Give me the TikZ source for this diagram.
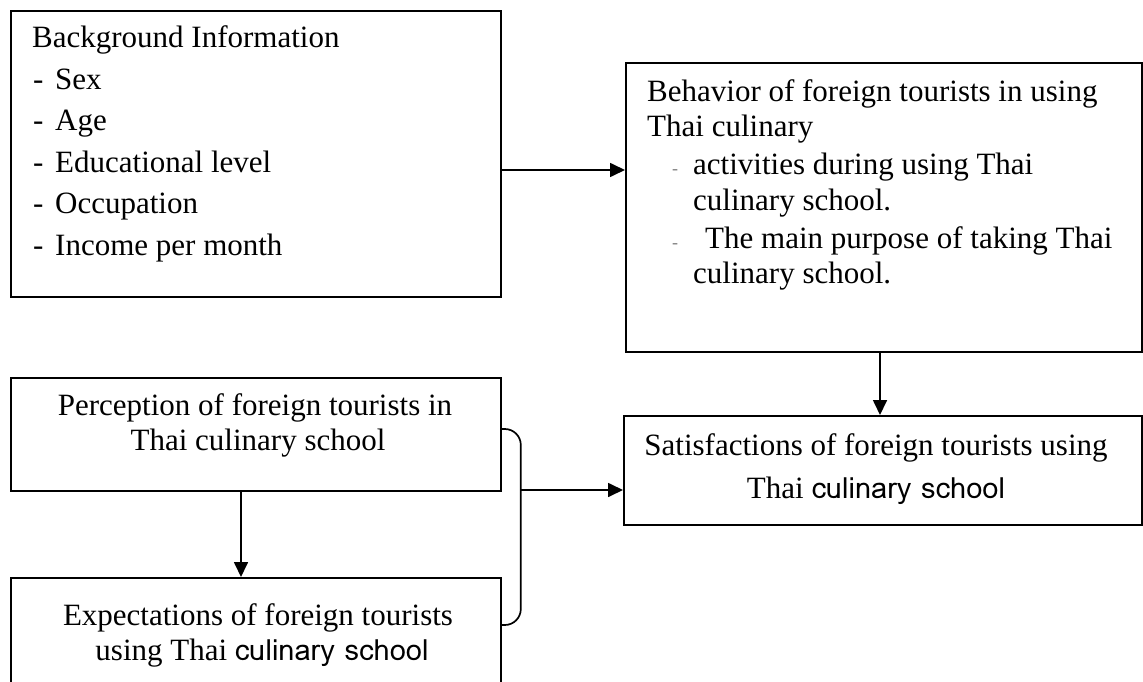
\documentclass[tikz,border=0pt]{standalone}
\usepackage{fontspec}
\setmainfont{Liberation Serif}
\newfontfamily\roundsans{Loma}
\usetikzlibrary{arrows.meta,calc}

\tikzset{
  x=1pt, y=-1pt,
  box/.style={draw, line width=1.8pt, inner sep=0pt, anchor=north west},
  txt/.style={inner sep=0pt, font=\fontsize{31}{36}\selectfont},
  lefttxt/.style={txt, anchor=base west},
  midtxt/.style={txt, anchor=base},
  smalldash/.style={inner sep=0pt, anchor=base west, text=gray, font=\fontsize{18}{18}\selectfont},
  arr/.style={line width=1.7pt, -{Triangle[length=15pt,width=14pt]}},
  brace/.style={line width=1.7pt, rounded corners=16pt},
}
\newcommand{\cs}{{\roundsans\fontsize{29}{34}\selectfont culinary school}}

\begin{document}
\begin{tikzpicture}
\useasboundingbox (0,0) rectangle (1143,682);
\clip (0,0) rectangle (1143,682);

% boxes
\node[box, minimum width=490pt, minimum height=286pt] (bg)   at (10,10)   {};
\node[box, minimum width=516pt, minimum height=289pt] (beh)  at (625,62)  {};
\node[box, minimum width=518pt, minimum height=109pt] (sat)  at (623,415) {};
\node[box, minimum width=490pt, minimum height=113pt] (perc) at (10,377)  {};
\node[box, minimum width=490pt, minimum height=120pt] (expe) at (10,577)  {};

% background information
\node[lefttxt] (bg0) at (32,48)  {Background Information};
\node[lefttxt] (bgd1) at (33,90)  {-};
\node[lefttxt] (bg1) at (55,90)  {Sex};
\node[lefttxt] (bgd2) at (33,131) {-};
\node[lefttxt] (bg2) at (55,131) {Age};
\node[lefttxt] (bgd3) at (33,172) {-};
\node[lefttxt] (bg3) at (55,172) {Educational level};
\node[lefttxt] (bgd4) at (33,213) {-};
\node[lefttxt] (bg4) at (55,213) {Occupation};
\node[lefttxt] (bgd5) at (33,255) {-};
\node[lefttxt] (bg5) at (55,255) {Income per month};

% behaviour
\node[lefttxt] (be0) at (647,102) {Behavior of foreign tourists in using};
\node[lefttxt] (be1) at (647,137) {Thai culinary};
\node[smalldash] (bed1) at (672,175) {-};
\node[lefttxt] (be2) at (693,175) {activities during using Thai};
\node[lefttxt] (be3) at (693,210) {culinary school.};
\node[smalldash] (bed2) at (672,248) {-};
\node[lefttxt] (be4) at (705,248) {The main purpose of taking Thai};
\node[lefttxt] (be5) at (693,283) {culinary school.};

% perception
\node[midtxt] (pe0) at (255,415) {Perception of foreign tourists in};
\node[midtxt] (pe1) at (258,450) {Thai culinary school};

% expectations
\node[midtxt] (ex0) at (258,625) {Expectations of foreign tourists};
\node[midtxt] (ex1) at (262,660) {using Thai \cs};

% satisfactions
\node[midtxt] (sa0) at (876,455) {Satisfactions of foreign tourists using};
\node[midtxt] (sa1) at (876,498) {Thai \cs};

% connectors
\coordinate (bgout) at ($(bg.north east)+(0,160)$);
\draw[arr] (bgout) -- (bgout -| beh.west);

\coordinate (behout) at ($(beh.south west)+(255,0)$);
\draw[arr] (behout) -- (behout |- sat.north);

\coordinate (percout) at ($(perc.south west)+(231,0)$);
\draw[arr] (percout) -- (percout |- expe.north);

\coordinate (btop) at ($(perc.north east)+(0,52)$);
\coordinate (bbot) at ($(expe.north east)+(0,48)$);
\coordinate (bjoin) at ($(btop)+(19,61)$);
\draw[brace] (btop) -| (bjoin |- bbot) -- (bbot);
\draw[arr] (bjoin) -- (bjoin -| sat.west);
\end{tikzpicture}
\end{document}
